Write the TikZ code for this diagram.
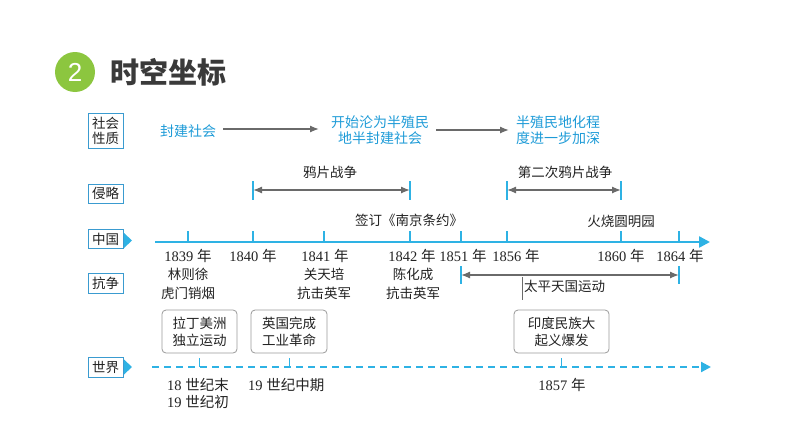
\documentclass[tikz,border=0pt]{standalone}
\usepackage{fontspec}
\setmainfont{Liberation Serif}
\newfontfamily\cjk{Noto Sans CJK SC}
\newfontfamily\sansf{Liberation Sans}
\usetikzlibrary{arrows.meta}
\definecolor{titlegreen}{HTML}{8CC63F}
\definecolor{titlegray}{HTML}{3A3A3A}
\definecolor{labblue}{HTML}{3A9BD0}
\definecolor{linecyan}{HTML}{2EB2E4}
\definecolor{handblue}{HTML}{1E9BD7}
\definecolor{arrgray}{HTML}{6A6A6A}
\definecolor{boxgray}{HTML}{9A9A9A}
\definecolor{txt}{HTML}{222222}
\begin{document}
\begin{tikzpicture}[x=1pt,y=-1pt,
  lab/.style={draw=labblue, line width=0.9pt, fill=white, text=txt,
    font=\cjk\fontsize{13.5}{15}\selectfont, minimum width=35, inner sep=1pt, align=center},
  hand/.style={text=handblue, font=\cjk\fontsize{14}{16}\selectfont, align=center, inner sep=0pt},
  ev/.style={text=txt, font=\cjk\fontsize{13.5}{19}\selectfont, align=center, inner sep=0pt},
  year/.style={text=txt, font=\fontsize{14.5}{17}\selectfont, inner sep=0pt},
  gbox/.style={draw=boxgray, line width=0.8pt, rounded corners=4pt, fill=white, text=txt,
    font=\cjk\fontsize{13.5}{17}\selectfont, align=center, inner sep=0pt, minimum height=43},
  garr/.style={draw=arrgray, line width=1.3pt, -{Latex[length=9pt,width=7pt]}},
  gdarr/.style={draw=arrgray, line width=1.3pt, {Latex[length=9pt,width=7pt]}-{Latex[length=9pt,width=7pt]}},
  bar/.style={draw=linecyan, line width=1.1pt},
  tick/.style={draw=linecyan, line width=1.1pt},
  wtick/.style={draw=linecyan, line width=0.9pt}
]
\useasboundingbox (0,0) rectangle (794,447);

% title
\node[circle, fill=titlegreen, minimum size=40, inner sep=0pt, text=white,
  font=\sansf\fontsize{26}{26}\selectfont] (num) at (75,72) {2};
\node[anchor=west, text=titlegray, font=\cjk\bfseries\fontsize{29}{30}\selectfont, inner sep=0pt] (title) at (110,72) {时空坐标};

% row labels
\node[lab, minimum height=35] (rq) at (105.5,130.5) {社会\\性质};
\node[lab, minimum height=19] (rinv) at (105.5,193.5) {侵略};
\node[lab, minimum height=19] (rcn) at (105.5,239) {中国};
\node[lab, minimum height=20] (rfight) at (105.5,283) {抗争};
\node[lab, minimum height=20] (rworld) at (105.5,367) {世界};
\fill[linecyan] (124,233) -- (132,240.5) -- (124,248) -- cycle;
\fill[linecyan] (124,359.5) -- (132,367) -- (124,374.5) -- cycle;

% society row
\node[hand] (feud) at (188,131) {封建社会};
\node[hand] (semi) at (380,130) {开始沦为半殖民\\地半封建社会};
\node[hand] (deep) at (558,130) {半殖民地化程\\度进一步加深};
\coordinate (a1s) at (223,129); \coordinate (a1e) at (319,129);
\coordinate (a2s) at (436,130); \coordinate (a2e) at (509,130);
\draw[garr] (a1s) -- (a1e);
\draw[garr] (a2s) -- (a2e);

% aggression row
\coordinate (w1a) at (253,190); \coordinate (w1b) at (410,190);
\coordinate (w2a) at (507,190); \coordinate (w2b) at (621,190);
\draw[bar] (253,181) -- (253,200);
\draw[bar] (410,181) -- (410,200);
\draw[bar] (507,181) -- (507,200);
\draw[bar] (621,181) -- (621,200);
\draw[gdarr] (w1a) -- (w1b);
\draw[gdarr] (w2a) -- (w2b);
\node[ev] (opium1) at (330,172) {鸦片战争};
\node[ev] (opium2) at (565,172) {第二次鸦片战争};

% China timeline
\coordinate (cs) at (155,242);
\coordinate (ce) at (710,242);
\draw[draw=linecyan, line width=2.4pt, -{Triangle[length=11pt,width=11pt]}] (cs) -- (ce);
\foreach \n/\x in {a/188,b/253,c/324,d/410,e/461,f/507,g/621,h/679}{
  \coordinate (t\n) at (\x,241);
  \draw[tick] (t\n) -- ++(0,-10);
}
\node[ev] (nanjing) at (409,220) {签订《南京条约》};
\node[ev] (yuanming) at (621,221) {火烧圆明园};

\node[year] (y1839) at (188,256) {1839 {\cjk 年}};
\node[year] (y1840) at (253,256) {1840 {\cjk 年}};
\node[year] (y1841) at (325,256) {1841 {\cjk 年}};
\node[year] (y1842) at (412,256) {1842 {\cjk 年}};
\node[year] (y1851) at (463,256) {1851 {\cjk 年}};
\node[year] (y1856) at (516,256) {1856 {\cjk 年}};
\node[year] (y1860) at (621,256) {1860 {\cjk 年}};
\node[year] (y1864) at (680,256) {1864 {\cjk 年}};

\node[ev] (lin) at (188,283.5) {林则徐\\虎门销烟};
\node[ev] (guan) at (324,283.5) {关天培\\抗击英军};
\node[ev] (chen) at (413,283.5) {陈化成\\抗击英军};

% Taiping
\draw[bar] (461,266) -- (461,284);
\draw[bar] (679,266) -- (679,284);
\coordinate (tpa) at (461,275); \coordinate (tpb) at (679,275);
\draw[gdarr] (tpa) -- (tpb);
\coordinate (tpl) at (522,277);
\draw[draw=arrgray, line width=0.7pt] (tpl) -- ++(0,23);
\node[ev, anchor=west] (taiping) at (524,286) {太平天国运动};

% world row
\coordinate (ws) at (152,367);
\coordinate (we) at (711,367);
\draw[draw=linecyan, line width=2.2pt, dash pattern=on 7pt off 5pt, -{Triangle[length=10pt,width=10pt]}] (ws) -- (we);
\node[gbox, minimum width=75] (latin) at (199.5,331.5) {拉丁美洲\\独立运动};
\node[gbox, minimum width=76] (brit) at (289,331.5) {英国完成\\工业革命};
\node[gbox, minimum width=95] (india) at (561.5,331.5) {印度民族大\\起义爆发};
\draw[wtick] (latin.south |- 0,358) -- (latin.south |- 0,367);
\draw[wtick] (brit.south |- 0,358) -- (brit.south |- 0,367);
\draw[wtick] (india.south |- 0,358) -- (india.south |- 0,367);

\node[year, anchor=west, align=left, font=\fontsize{14.5}{17.5}\selectfont] (c18) at (167,393.5) {18 {\cjk 世纪末}\\19 {\cjk 世纪初}};
\node[year, anchor=west] (c19) at (248,385) {19 {\cjk 世纪中期}};
\node[year] (y1857) at (562,385) {1857 {\cjk 年}};
\end{tikzpicture}
\end{document}
